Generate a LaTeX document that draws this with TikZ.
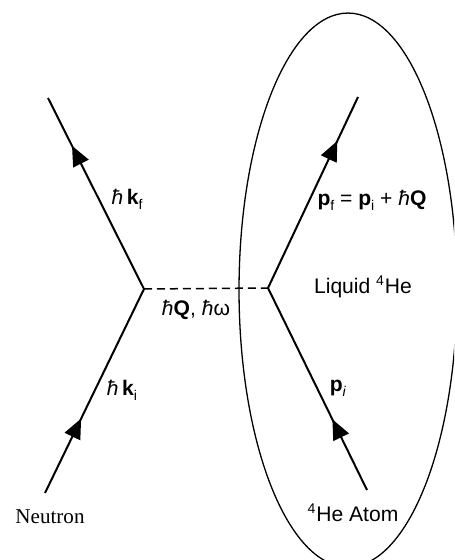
\documentclass[tikz,border=0pt]{standalone}
\usepackage{fontspec}
\setmainfont{Liberation Sans}
\newfontfamily\timesfont{Liberation Serif}
\usetikzlibrary{arrows.meta,decorations.markings}
\newcommand{\hb}{\textit{ħ}}
\newcommand{\sub}[1]{\raisebox{-0.45ex}{\footnotesize #1}}
\begin{document}
\begin{tikzpicture}[x=0.02cm,y=-0.02cm,
    line/.style={line width=0.04cm},
    arrowat/.style={postaction={decorate},decoration={markings,
      mark=at position #1 with {\arrow{Triangle[length=0.4cm,width=0.34cm]}}}},
    lbl/.style={font=\fontsize{12}{14}\selectfont,inner sep=0pt}]
  \clip (0,0) rectangle (454,560);
  \coordinate (vl) at (144,289);
  \coordinate (vr) at (268,288);
  \coordinate (kf) at (48,98);
  \coordinate (ki) at (45,493);
  \coordinate (pf) at (358,97);
  \coordinate (pi) at (367,490);
  \draw[line,arrowat=0.365] (ki) -- (vl);
  \draw[line,arrowat=0.75] (vl) -- (kf);
  \draw[line,arrowat=0.35] (pi) -- (vr);
  \draw[line,arrowat=0.77] (vr) -- (pf);
  \draw[line width=0.03cm,dash pattern=on 0.16cm off 0.1cm] (vl) -- (vr);
  \draw[line width=0.026cm] (348,290) ellipse [x radius=2.18cm,y radius=5.54cm];
  \node[lbl] (lkf) at (127,199) {\hb\,\textbf{k}\sub{f}};
  \node[lbl] (lki) at (122,390) {\hb\,\textbf{k}\sub{i}};
  \node[lbl] (lq) at (196,310) {\hb\textbf{Q}, \hb ω};
  \node[lbl] (lpf) at (372,200) {\textbf{p}\sub{f} = \textbf{p}\sub{i} + \hb\textbf{Q}};
  \node[lbl] (lhe) at (363,287) {Liquid \textsuperscript{4}He};
  \node[lbl] (lpi) at (338,388) {\textbf{p}\sub{\textit{i}}};
  \node[lbl] (latom) at (353,513) {\textsuperscript{4}He Atom};
  \node[lbl,font=\fontsize{12}{14}\timesfont] (ln) at (50,517) {Neutron};
\end{tikzpicture}
\end{document}
